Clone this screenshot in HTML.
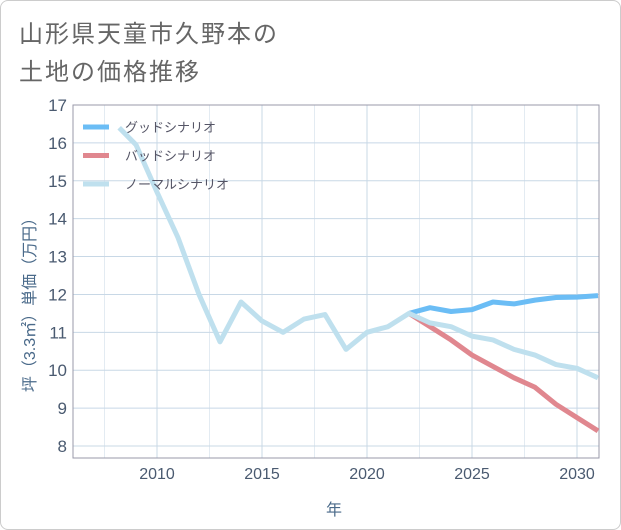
<!DOCTYPE html>
<html><head><meta charset="utf-8"><style>
body{margin:0;background:#fff;}
#card{position:absolute;left:0;top:0;width:619px;height:528px;border:1px solid #ccc;border-radius:8px;background:#fff;overflow:hidden;}
text{font-family:"Liberation Sans","Noto Sans CJK JP",sans-serif;}
</style></head><body>
<div id="card">
<svg id="chart" width="621" height="530">
<text x="18" y="41" font-size="24" letter-spacing="2" fill="#666">山形県天童市久野本の</text>
<text x="18" y="79" font-size="24" letter-spacing="2" fill="#666">土地の価格推移</text>
<g id="grid"></g>
<g id="axes"></g>
<g id="series"></g>
<g id="legend"></g>
<text transform="translate(34,300) rotate(-90)" text-anchor="middle" font-size="16" fill="#4a6a8a">坪（3.3㎡）単価（万円）</text>
<text x="333" y="514" text-anchor="middle" font-size="16" fill="#4a6a8a">年</text>
</svg>
</div>
<script>
const normalYears=[2008.2,2009,2010,2011,2012,2013,2014,2015,2016,2017,2018,2019,2020,2021,2022,2023,2024,2025,2026,2027,2028,2029,2030,2031];
const normalValues=[16.4,15.95,14.7,13.5,12.0,10.75,11.8,11.3,11.0,11.35,11.47,10.55,11.0,11.15,11.5,11.25,11.15,10.9,10.8,10.55,10.4,10.15,10.05,9.8];
const scenarioYears=[2022,2023,2024,2025,2026,2027,2028,2029,2030,2031];
const goodValues=[11.5,11.65,11.55,11.6,11.8,11.75,11.85,11.92,11.93,11.97];
const badValues=[11.5,11.15,10.8,10.4,10.1,9.8,9.55,9.1,8.75,8.4];
const yTicks=[8,9,10,11,12,13,14,15,16,17];
const xTicks=[2010,2015,2020,2025,2030];
const legendLabels=["グッドシナリオ","バッドシナリオ","ノーマルシナリオ"];
const NS="http://www.w3.org/2000/svg";
const L=72,R=598,T=104,B=457;
const x=v=>156+(v-2010)*(576-156)/20;
const y=v=>445-(v-8)*(445-104)/9;
function mk(tag,attrs,parent){const e=document.createElementNS(NS,tag);for(const k in attrs)e.setAttribute(k,attrs[k]);parent.appendChild(e);return e;}
const grid=document.getElementById('grid'),axes=document.getElementById('axes'),series=document.getElementById('series'),legend=document.getElementById('legend');
for(let v=2007.5;v<2031;v+=2.5){const g=mk('line',{x1:x(v),x2:x(v),y1:T,y2:B,stroke:(v%5===0)?'#c8d8e6':'#e3ebf2','stroke-width':1},grid);

}
yTicks.forEach(t=>{const g=mk('line',{x1:L,x2:R,y1:y(t),y2:y(t),stroke:'#c8d8e6','stroke-width':1},grid);


const tx=mk('text',{x:L-6,y:y(t)+6,'text-anchor':'end','font-size':17,fill:'#4a5a70'},axes);tx.textContent=t;

});
xTicks.forEach(t=>{const tx=mk('text',{x:x(t),y:478,'text-anchor':'middle','font-size':16,fill:'#4a5a70'},axes);tx.textContent=t;

});
const frame=mk('rect',{x:L,y:T,width:R-L,height:B-T,fill:'none',stroke:'#99a',"stroke-width":1},axes);


const cp=mk('clipPath',{id:'clip'},series);mk('rect',{x:L,y:T,width:R-L,height:B-T},cp);
function line(xs,vs,color,name){const p=mk('polyline',{points:xs.map((a,i)=>x(a)+','+y(vs[i])).join(' '),fill:'none',stroke:color,'stroke-width':5,'stroke-linejoin':'round','clip-path':'url(#clip)'},series);

}
line(scenarioYears,goodValues,'#6bbdf5','good-scenario-line');
line(scenarioYears,badValues,'#e0878f','bad-scenario-line');
line(normalYears,normalValues,'#bfe0ee','normal-scenario-line');
const cols=['#6bbdf5','#e0878f','#bfe0ee'];
legendLabels.forEach((lb,i)=>{const yy=126+i*28.5;
const g=mk('g',{},legend);


mk('line',{x1:82,x2:108,y1:yy,y2:yy,stroke:cols[i],'stroke-width':5},g);
const t=mk('text',{x:124,y:yy+5,'font-size':13,fill:'#556'},g);t.textContent=lb;});
</script>
</body></html>
